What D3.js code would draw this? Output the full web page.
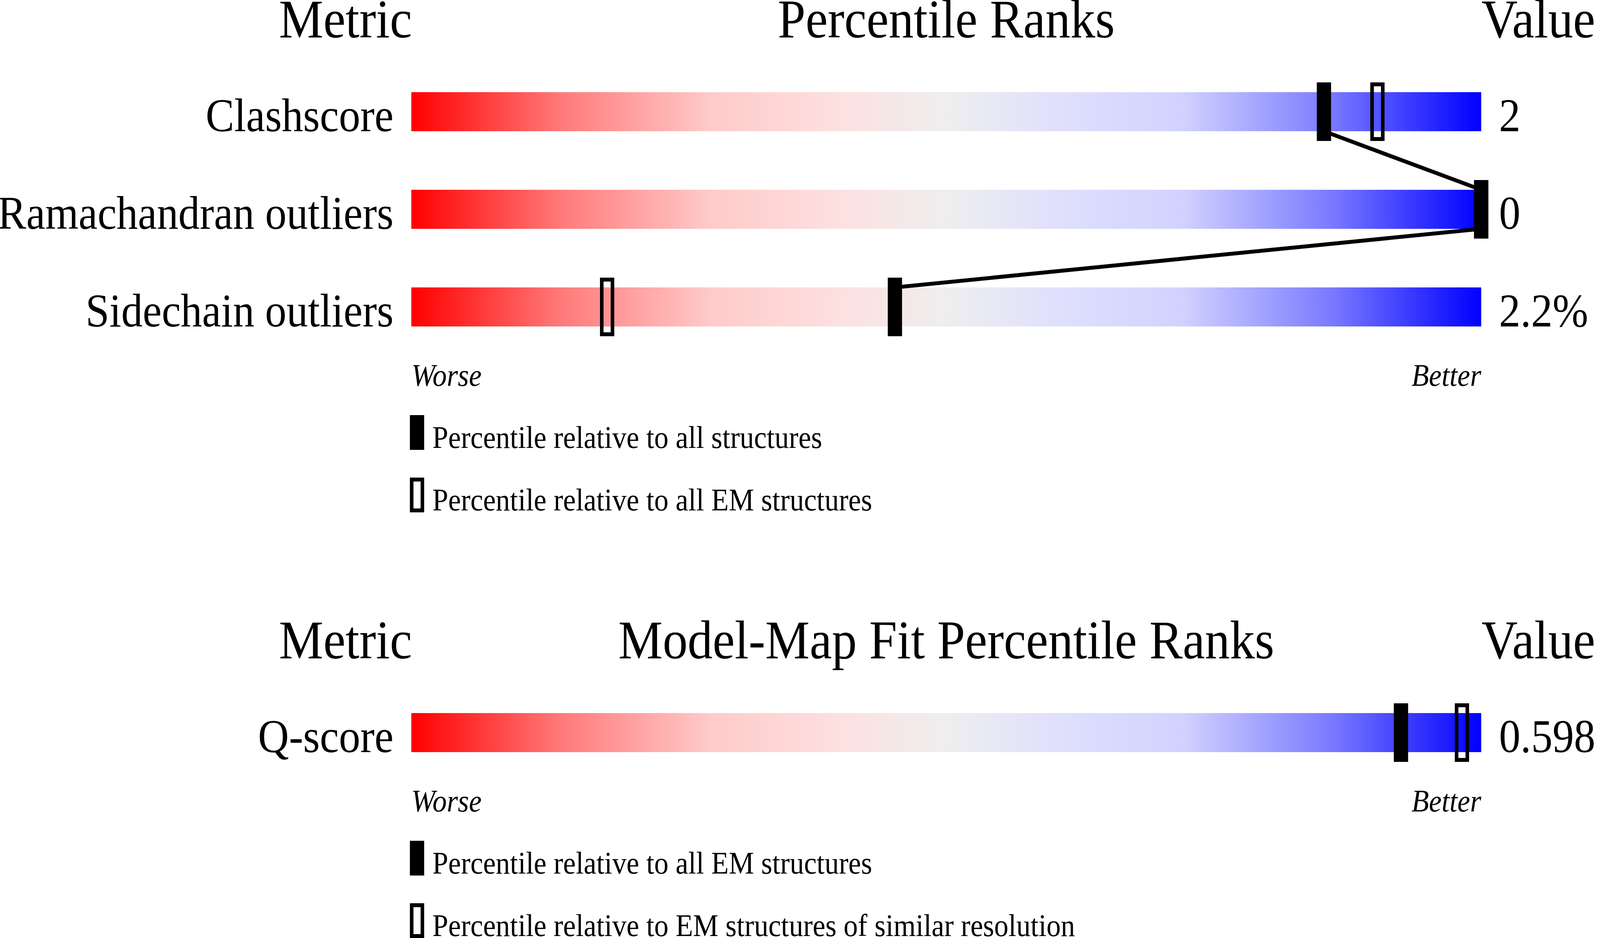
<!DOCTYPE html>
<html>
<head>
<meta charset="utf-8">
<script src="https://cdn.jsdelivr.net/npm/d3@7"></script>
<style>
  html, body { margin: 0; padding: 0; width: 100%; height: 100%; overflow: hidden; background: #fff; }
  svg { display: block; width: 100vw; height: 100vh; }
  text { font-family: "Liberation Serif", "Times New Roman", serif; fill: #000; }
</style>
</head>
<body>
<svg id="chart"></svg>
<script>
// geometry chart (upper panel)
const geoMetrics = ["Clashscore", "Ramachandran outliers", "Sidechain outliers"];
const geoPctAll = [85.3, 100, 45.2];
const geoPctEM = [90.3, 100, 18.3];
const geoValues = ["2", "0", "2.2%"];
const geoLegend = ["Percentile relative to all structures", "Percentile relative to all EM structures"];

// model-map fit chart (lower panel)
const fitMetrics = ["Q-score"];
const fitPctEM = [92.5];
const fitPctRes = [98.2];
const fitValues = ["0.598"];
const fitLegend = ["Percentile relative to all EM structures", "Percentile relative to EM structures of similar resolution"];

const W = 4485, H = 2402;
const svg = d3.select("#chart")
  .attr("viewBox", `0 0 ${W} ${H}`)
  .attr("preserveAspectRatio", "none");

const x = d3.scaleLinear().domain([0, 100]).range([1153, 4152]);

const defs = svg.append("defs");
const grad = defs.append("linearGradient").attr("id", "slider")
  .attr("x1", "0%").attr("x2", "100%").attr("y1", "0%").attr("y2", "0%");
[[0, "#ff0000"], [0.14, "#ff7a7a"], [0.28, "#ffcaca"], [0.4, "#fde0e0"], [0.5, "#eeeeee"],
 [0.6, "#e0e0fd"], [0.72, "#d2d2ff"], [0.86, "#7a7aff"], [1, "#0000ff"]]
  .forEach(([o, c]) => grad.append("stop").attr("offset", o).attr("stop-color", c));

function drawPanel(top, title, metrics, pctFilled, pctHollow, values, legend, connect) {
  const g = svg.append("g");
  const y = d3.scaleBand().domain(metrics)
    .range([top + 140, top + 140 + (metrics.length === 1 ? 100 : 250 * metrics.length - 150)])
    .paddingInner(metrics.length === 1 ? 0 : 0.6);
  const bw = y.bandwidth();

  // headers
  g.append("text").attr("x", x(0) + 2).attr("y", top).attr("text-anchor", "end")
    .attr("font-size", 140).text("Metric");
  g.append("text").attr("x", (x(0) + x(100)) / 2).attr("y", top).attr("text-anchor", "middle")
    .attr("font-size", 140).text(title);
  g.append("text").attr("x", x(100) + 1).attr("y", top)
    .attr("font-size", 140).text("Value");

  // bars
  g.selectAll(".bar").data(metrics).enter().append("rect")
    .attr("x", x(0)).attr("width", x(100) - x(0))
    .attr("y", d => y(d)).attr("height", bw)
    .attr("fill", "url(#slider)");

  // labels and values
  g.selectAll(".lab").data(metrics).enter().append("text")
    .attr("x", x(0) - 50).attr("y", d => y(d) + bw)
    .attr("text-anchor", "end").attr("font-size", 120).text(d => d);
  g.selectAll(".val").data(values).enter().append("text")
    .attr("x", x(100) + 50).attr("y", (d, i) => y(metrics[i]) + bw)
    .attr("font-size", 120).text(d => d);

  // connecting line between filled markers
  if (connect) {
    for (let i = 0; i < metrics.length - 1; i++) {
      g.append("line")
        .attr("x1", x(pctFilled[i])).attr("y1", y(metrics[i]) + bw)
        .attr("x2", x(pctFilled[i + 1])).attr("y2", y(metrics[i + 1]))
        .attr("stroke", "#000").attr("stroke-width", 10);
    }
  }

  // markers
  const mw = 40, mh = bw + 50;
  g.selectAll(".hollow").data(pctHollow).enter().append("rect")
    .attr("x", d => x(d) - mw / 2 + 5).attr("y", (d, i) => y(metrics[i]) - 25 + 5)
    .attr("width", mw - 10).attr("height", mh - 10)
    .attr("fill", "none").attr("stroke", "#000").attr("stroke-width", 10);
  g.selectAll(".filled").data(pctFilled).enter().append("rect")
    .attr("x", d => x(d) - mw / 2).attr("y", (d, i) => y(metrics[i]) - 25)
    .attr("width", mw).attr("height", mh).attr("fill", "#000");

  // worse / better
  const last = y(metrics[metrics.length - 1]) + bw;
  g.append("text").attr("x", x(0)).attr("y", last + 152)
    .attr("font-size", 80).attr("font-style", "italic").text("Worse");
  g.append("text").attr("x", x(100)).attr("y", last + 152).attr("text-anchor", "end")
    .attr("font-size", 80).attr("font-style", "italic").text("Better");

  // legend
  legend.forEach((t, i) => {
    const ly = last + 227 + i * 160;
    if (i === 0) {
      g.append("rect").attr("x", 1149).attr("y", ly).attr("width", 40).attr("height", 89).attr("fill", "#000");
    } else {
      g.append("rect").attr("x", 1154).attr("y", ly + 5).attr("width", 30).attr("height", 79)
        .attr("fill", "none").attr("stroke", "#000").attr("stroke-width", 10);
    }
    g.append("text").attr("x", 1212).attr("y", ly + 84).attr("font-size", 80).text(t);
  });
}

drawPanel(96, "Percentile Ranks", geoMetrics, geoPctAll, geoPctEM, geoValues, geoLegend, true);
drawPanel(1686, "Model-Map Fit Percentile Ranks", fitMetrics, fitPctEM, fitPctRes, fitValues, fitLegend, false);
</script>
</body>
</html>
